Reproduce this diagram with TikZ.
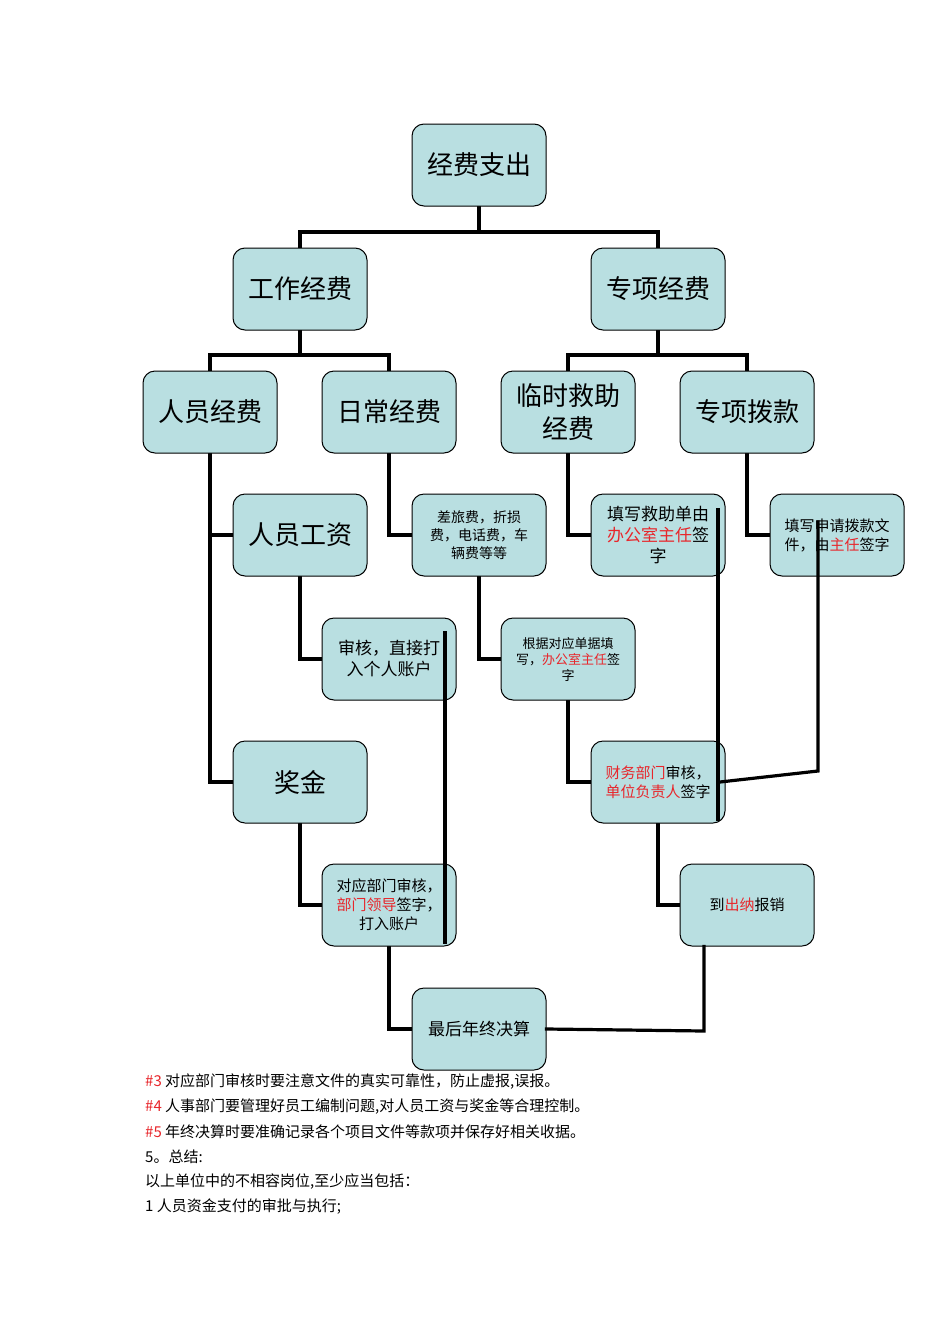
\documentclass[tikz,border=0pt]{standalone}
\usepackage{fontspec}
\setmainfont{Noto Sans CJK SC}
\definecolor{boxfill}{HTML}{B9DFE1}
\definecolor{redt}{HTML}{E8262B}
\tikzset{
 bx/.style={draw=black,line width=1pt,fill=boxfill,rounded corners=12pt,minimum width=134pt,minimum height=82pt,align=center,inner sep=2pt},
 big/.style={bx,font=\fontsize{26}{31}\selectfont},
 mid/.style={bx,font=\fontsize{17}{21}\selectfont},
 sml/.style={bx,font=\fontsize{14}{18}\selectfont},
 ln/.style={line width=3.2pt,line cap=rect},
 note/.style={anchor=west,font=\fontsize{15}{18}\selectfont,inner sep=0pt}
}
\newcommand{\rd}[1]{\textcolor{redt}{#1}}
\begin{document}
\begin{tikzpicture}[x=1pt,y=-1pt]
\useasboundingbox[fill=white] (0,0) rectangle (950,1344);
% connectors first
\coordinate (j1) at (479,232);
\draw[ln] (479,206) -- (j1);
\draw[ln] (300,248) -- (300,232) -- (658,232) -- (658,248);
\draw[ln] (300,330) -- (300,355);
\draw[ln] (210,371) -- (210,355) -- (389,355) -- (389,371);
\draw[ln] (658,330) -- (658,355);
\draw[ln] (568,371) -- (568,355) -- (747,355) -- (747,371);
\draw[ln] (210,453) -- (210,782) -- (233,782);
\draw[ln] (210,535) -- (233,535);
\draw[ln] (389,453) |- (412,535);
\draw[ln] (568,453) |- (591,535);
\draw[ln] (747,453) |- (770,535);
\draw[ln] (300,576) |- (322,659);
\draw[ln] (479,576) |- (501,659);
\draw[ln] (568,700) |- (591,782);
\draw[ln] (300,823) |- (322,905);
\draw[ln] (658,823) |- (681,905);
\draw[ln] (389,946) |- (412,1029);
% nodes
\node[big] (a) at (479,165) {经费支出};
\node[big] (b) at (300,289) {工作经费};
\node[big] (c) at (658,289) {专项经费};
\node[big] (d) at (210,412) {人员经费};
\node[big] (e) at (389,412) {日常经费};
\node[big,font=\fontsize{26}{33}\selectfont] (f) at (568,412) {临时救助\\经费};
\node[big] (g) at (747,412) {专项拨款};
\node[big] (h) at (300,535) {人员工资};
\node[sml] (i) at (479,535) {差旅费，折损\\费，电话费，车\\辆费等等};
\node[mid] (j) at (658,535) {填写救助单由\\\rd{办公室主任}签\\字};
\node[sml,font=\fontsize{15}{19}\selectfont] (k) at (837,535) {填写申请拨款文\\件，由\rd{主任}签字};
\node[mid] (l) at (389,659) {审核，直接打\\入个人账户};
\node[sml,font=\fontsize{13}{16}\selectfont] (m) at (568,659) {根据对应单据填\\写，\rd{办公室主任}签\\字};
\node[big] (n) at (300,782) {奖金};
\node[mid,font=\fontsize{15}{19}\selectfont] (o) at (658,782) {\rd{财务部门}审核，\\\rd{单位负责人}签字};
\node[mid,font=\fontsize{15}{19}\selectfont] (p) at (389,905) {对应部门审核，\\\rd{部门领导}签字，\\打入账户};
\node[mid,font=\fontsize{15}{19}\selectfont] (q) at (747,905) {到\rd{出纳}报销};
\node[mid,font=\fontsize{17}{21}\selectfont] (r) at (479,1029) {最后年终决算};
% overlay lines
\draw[ln] ([xshift=56pt,yshift=26pt]l.center) -- ([xshift=56pt,yshift=-37pt]p.center);
\draw[ln] ([xshift=60pt,yshift=25pt]j.center) -- ([xshift=60pt,yshift=-37pt]o.center);
\coordinate (kk) at (818,771);
\draw[ln] ([xshift=-19pt,yshift=13pt]k.center) -- (kk) -- ([xshift=62pt]o.center);
\draw[ln] ([xshift=-43pt]q.south) -- (704,1031) -- (r.east);
% notes
\node[note] (t1) at (145,1082) {\rd{\#3} 对应部门审核时要注意文件的真实可靠性，防止虚报,误报。};
\node[note] (t2) at (145,1107) {\rd{\#4} 人事部门要管理好员工编制问题,对人员工资与奖金等合理控制。};
\node[note] (t3) at (145,1132) {\rd{\#5} 年终决算时要准确记录各个项目文件等款项并保存好相关收据。};
\node[note] (t4) at (145,1157) {5。总结:};
\node[note] (t5) at (145,1182) {以上单位中的不相容岗位,至少应当包括：};
\node[note] (t6) at (145,1207) {1 人员资金支付的审批与执行;};
\end{tikzpicture}
\end{document}
